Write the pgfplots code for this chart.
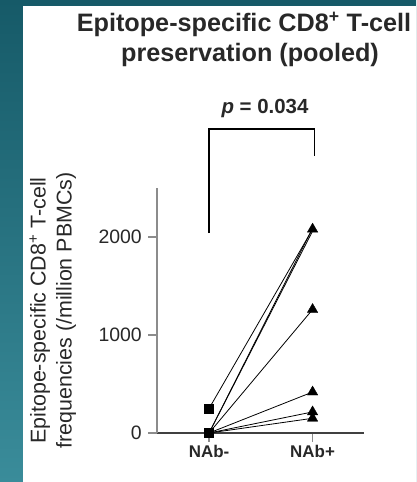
\documentclass[border=0pt]{standalone}
\usepackage{pgfplots}
\pgfplotsset{compat=1.18}
\usepackage{fontspec}
\setmainfont{Liberation Sans}
\definecolor{tealtop}{RGB}{22,90,104}
\definecolor{tealbot}{RGB}{58,140,154}
\definecolor{txt}{RGB}{40,40,40}
\begin{document}
\begin{tikzpicture}[x=1bp,y=1bp]
\useasboundingbox (0,0) rectangle (416,482);
\shade[top color=tealtop, bottom color=tealbot] (0,0) rectangle (416,482);
\fill[white] (23,0) rectangle (416,476);
\begin{axis}[
  at={(152,50)}, anchor=south west,
  scale only axis, width=207bp, height=245bp,
  xmin=-0.5, xmax=1.5, ymin=0, ymax=2500,
  axis x line=bottom, axis y line=left,
  x axis line style={-, draw=black!75, line width=1.4bp},
  y axis line style={-, draw=black!45, line width=1.8bp},
  xtick={0,1}, xticklabels={NAb-,NAb+},
  ytick={0,1000,2000},
  tick align=outside,
  major tick length=9bp,
  every tick/.style={black!45, line width=1.2bp},
  x tick label style={font=\bfseries\fontsize{17}{20}\selectfont, text=txt},
  y tick label style={font=\fontsize{19.5}{22}\selectfont, text=txt, xshift=-3bp},
  /pgf/number format/assume math mode=true,
  /pgf/number format/1000 sep={},
  scaled y ticks=false,
  ylabel={Epitope-specific CD8\textsuperscript{+} T-cell\\frequencies (/million PBMCs)},
  ylabel style={align=center, font=\fontsize{21.5}{26}\selectfont, text=txt, at={(rel axis cs:-0.505,0.5)}, anchor=center},
  clip=false,
]
% paired lines
\addplot[black, line width=0.8bp] coordinates {(0,250) (1,2080)};
\addplot[black, line width=0.8bp] coordinates {(0,0) (1,2090)};
\addplot[black, line width=0.8bp] coordinates {(0,0) (1,2060)};
\addplot[black, line width=0.8bp] coordinates {(0,0) (1,1260)};
\addplot[black, line width=0.8bp] coordinates {(0,0) (1,418)};
\addplot[black, line width=0.8bp] coordinates {(0,0) (1,215)};
\addplot[black, line width=0.8bp] coordinates {(0,0) (1,150)};
% markers
\addplot[only marks, mark=square*, mark size=4.5bp, black] coordinates {(0,250) (0,0)};
\addplot[only marks, mark=triangle*, mark size=6bp, black] coordinates {(1,2080) (1,1260) (1,418) (1,215) (1,150)};
% significance bracket
\addplot[black, line width=1.6bp, mark=none] coordinates {(0,2040) (0,3100) (1.02,3100) (1.02,2830)};
\node[font=\bfseries\fontsize{20.5}{22}\selectfont, anchor=base, text=txt] at (axis cs:0.54,3255) {\textit{p} = 0.034};
\end{axis}
\node[font=\bfseries\fontsize{25.3}{28}\selectfont, anchor=base, text=txt] at (244,450) {Epitope-specific CD8\textsuperscript{+} T-cell};
\node[font=\bfseries\fontsize{25.3}{28}\selectfont, anchor=base, text=txt] at (250,420) {preservation (pooled)};
\end{tikzpicture}
\end{document}
